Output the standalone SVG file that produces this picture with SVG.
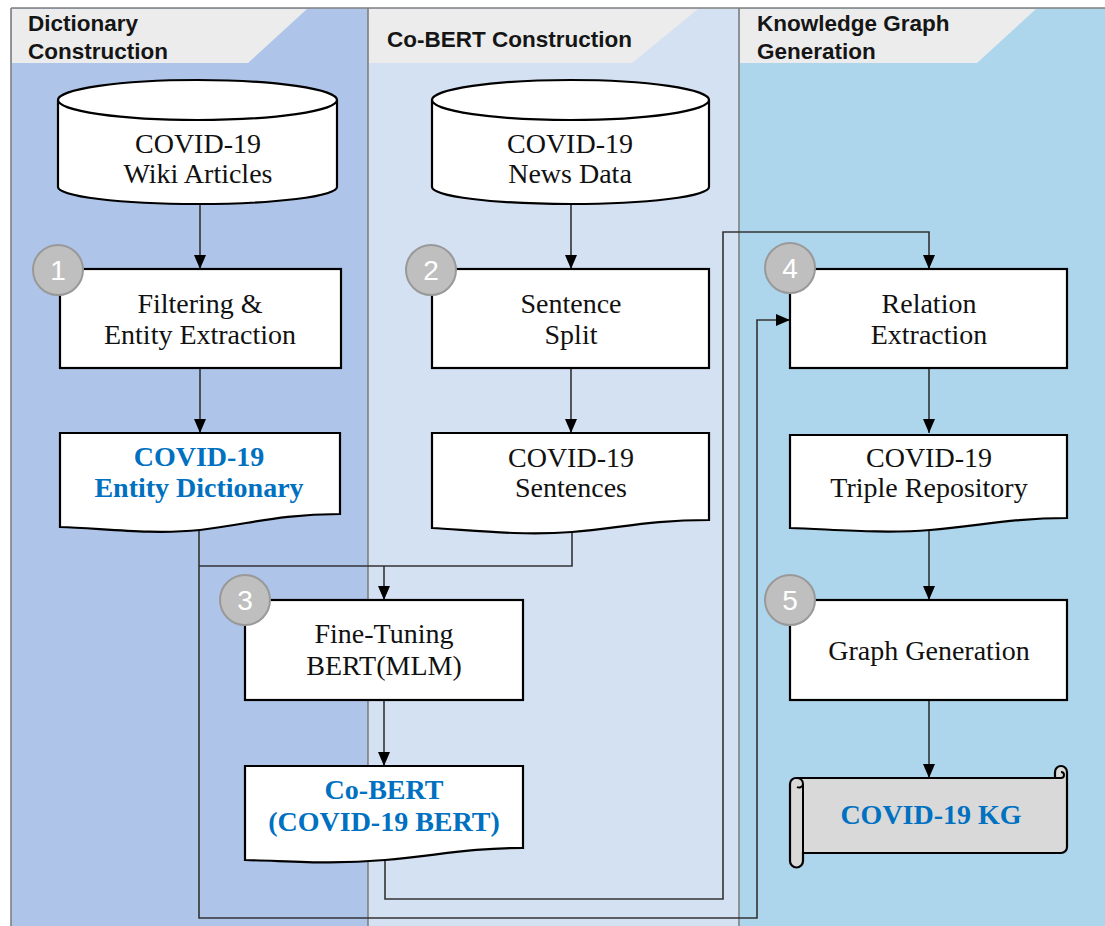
<svg xmlns="http://www.w3.org/2000/svg" width="1105" height="926" viewBox="0 0 1105 926">
<defs>
<marker id="arr" markerUnits="userSpaceOnUse" markerWidth="14" markerHeight="12" refX="14" refY="6" orient="auto">
<path d="M0,0 L14,6 L0,12 Z" fill="#000"/>
</marker>
<style>
.hdr{fill:#ececec}
.ht{font-family:"Liberation Sans",Arial,sans-serif;font-weight:bold;font-size:22.5px;fill:#151515}
.shape{fill:#fff;stroke:#000;stroke-width:2.2}
.t{font-family:"Liberation Serif","Times New Roman",serif;font-size:28px;fill:#111;text-anchor:middle}
.b{font-family:"Liberation Serif","Times New Roman",serif;font-size:28px;font-weight:bold;fill:#0070c0;text-anchor:middle}
.circ{fill:#bfbfbf;stroke:#999;stroke-width:2}
.num{font-family:"Liberation Sans",Arial,sans-serif;font-size:28px;fill:#fff;text-anchor:middle}
.con{fill:none;stroke:#333;stroke-width:1.6}
.sep{stroke:#7f7f7f;stroke-width:1.6}
</style>
</defs>
<g id="lanes">
<rect x="11" y="8" width="357" height="918" fill="#aec5e9"/>
<rect x="368" y="8" width="371" height="918" fill="#d4e1f2"/>
<rect x="739" y="8" width="366" height="918" fill="#add6ec"/>
<polygon class="hdr" points="12,9 307,9 248,63 12,63"/>
<polygon class="hdr" points="369,9 698,9 632,63 369,63"/>
<polygon class="hdr" points="740,9 1036,9 977,63 740,63"/>
<line class="sep" x1="11" y1="8" x2="1105" y2="8"/>
<line class="sep" x1="11" y1="8" x2="11" y2="926"/>
<line class="sep" x1="368" y1="8" x2="368" y2="926"/>
<line class="sep" x1="739" y1="8" x2="739" y2="926"/>
<text class="ht" x="28" y="31">Dictionary</text>
<text class="ht" x="28" y="59">Construction</text>
<text class="ht" x="387" y="47">Co-BERT Construction</text>
<text class="ht" x="757" y="31">Knowledge Graph</text>
<text class="ht" x="757" y="59">Generation</text>
</g>
<g id="connectors">
<line class="con" x1="200" y1="205" x2="200" y2="269" marker-end="url(#arr)"/>
<line class="con" x1="571" y1="205" x2="571" y2="269" marker-end="url(#arr)"/>
<line class="con" x1="200" y1="368" x2="200" y2="433" marker-end="url(#arr)"/>
<line class="con" x1="571" y1="368" x2="571" y2="433" marker-end="url(#arr)"/>
<line class="con" x1="929" y1="368" x2="929" y2="433" marker-end="url(#arr)"/>
<line class="con" x1="929" y1="528" x2="929" y2="600" marker-end="url(#arr)"/>
<line class="con" x1="929" y1="700" x2="929" y2="778" marker-end="url(#arr)"/>
<line class="con" x1="384" y1="700" x2="384" y2="766" marker-end="url(#arr)"/>
<polyline class="con" points="572,530 572,566 199,566"/>
<polyline class="con" points="384,566 384,600" marker-end="url(#arr)"/>
<polyline class="con" points="199,528 199,918 757,918 757,320 790,320" marker-end="url(#arr)"/>
<polyline class="con" points="385,860 385,899 723,899 723,232 929,232 929,269" marker-end="url(#arr)"/>
</g>
<g id="n-wiki">
<path class="shape" d="M58,100 V187 A139.5,17 0 0 0 337,187 V100 A139.5,20 0 0 0 58,100 A139.5,20 0 0 0 337,100"/>
<text class="t" x="198" y="153">COVID-19</text>
<text class="t" x="198" y="183">Wiki Articles</text>
</g>
<g id="n-news">
<path class="shape" d="M432,100 V187 A138.5,17 0 0 0 709,187 V100 A138.5,20 0 0 0 432,100 A138.5,20 0 0 0 709,100"/>
<text class="t" x="570" y="153">COVID-19</text>
<text class="t" x="570" y="183">News Data</text>
</g>
<g id="n-filter">
<rect class="shape" x="60" y="269" width="281" height="99"/>
<circle class="circ" cx="58" cy="270" r="25"/>
<text class="num" x="58" y="280">1</text>
<text class="t" x="200" y="313">Filtering &amp;</text>
<text class="t" x="200" y="344">Entity Extraction</text>
</g>
<g id="n-split">
<rect class="shape" x="432" y="269" width="277" height="99"/>
<circle class="circ" cx="431" cy="270" r="25"/>
<text class="num" x="431" y="280">2</text>
<text class="t" x="571" y="313">Sentence</text>
<text class="t" x="571" y="344">Split</text>
</g>
<g id="n-relation">
<rect class="shape" x="790" y="269" width="277" height="99"/>
<circle class="circ" cx="790" cy="268" r="25"/>
<text class="num" x="790" y="278">4</text>
<text class="t" x="929" y="313">Relation</text>
<text class="t" x="929" y="344">Extraction</text>
</g>
<g id="n-dict">
<path class="shape" d="M60,433 H340 V514 C280,514 250,524 200,530 C150,535 100,528 60,527 Z"/>
<text class="b" x="199" y="466">COVID-19</text>
<text class="b" x="199" y="497">Entity  Dictionary</text>
</g>
<g id="n-sent">
<path class="shape" d="M432,433 H709 V520 C650,520 620,528 572,532 C520,536 470,530 432,528 Z"/>
<text class="t" x="571" y="467">COVID-19</text>
<text class="t" x="571" y="497">Sentences</text>
</g>
<g id="n-triple">
<path class="shape" d="M790,435 H1067 V518 C1010,518 980,526 930,530 C880,534 830,529 790,528 Z"/>
<text class="t" x="929" y="467">COVID-19</text>
<text class="t" x="929" y="497">Triple Repository</text>
</g>
<g id="n-finetune">
<rect class="shape" x="245" y="600" width="278" height="100"/>
<circle class="circ" cx="245" cy="600" r="25"/>
<text class="num" x="245" y="610">3</text>
<text class="t" x="384" y="643">Fine-Tuning</text>
<text class="t" x="384" y="675">BERT(MLM)</text>
</g>
<g id="n-cobert">
<path class="shape" d="M245,766 H523 V848 C470,848 440,855 385,860 C330,865 290,861 245,860 Z"/>
<text class="b" x="384" y="799">Co-BERT</text>
<text class="b" x="384" y="831">(COVID-19 BERT)</text>
</g>
<g id="n-graph">
<rect class="shape" x="790" y="600" width="277" height="100"/>
<circle class="circ" cx="790" cy="600" r="25"/>
<text class="num" x="790" y="610">5</text>
<text class="t" x="929" y="660">Graph Generation</text>
</g>
<g id="n-kg">
<path d="M797,778 H1055 V772 A6,6 0 0 1 1067,772 V847 A6,6 0 0 1 1061,853 H803 V861 A6.5,6.5 0 0 1 790,861 V784 A6,6 0 0 1 796,778 Z" fill="#d9d9d9" stroke="#000" stroke-width="2.2"/>
<path d="M803,784 V853 M796,778 A6,6 0 0 1 803,784 A4,4 0 0 1 797,787" fill="none" stroke="#000" stroke-width="2"/>
<path d="M1055,778 H1061 A3,3 0 0 0 1061,772" fill="none" stroke="#000" stroke-width="2"/>
<text class="b" x="931" y="824">COVID-19 KG</text>
</g>
</svg>
